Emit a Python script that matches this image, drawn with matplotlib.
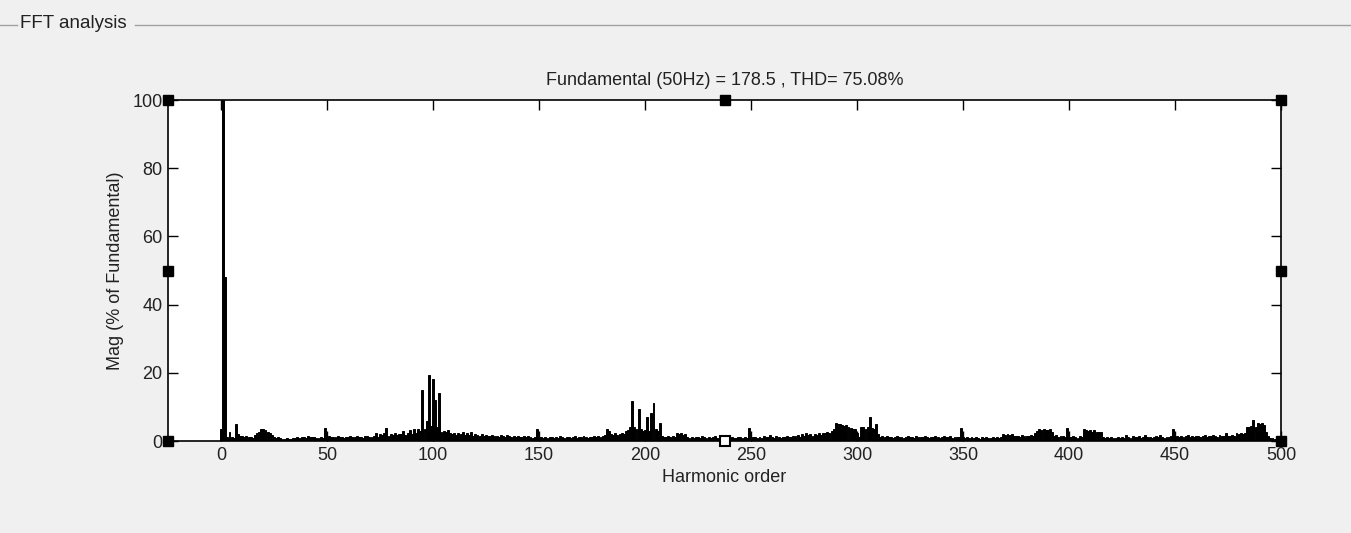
import matplotlib
matplotlib.use("Agg")
import matplotlib.pyplot as plt
from matplotlib.lines import Line2D
import numpy as np

# ---- data (harmonic order 0..500, % of fundamental) ----
title_text = "Fundamental (50Hz) = 178.5 , THD= 75.08%"
x_ticks = [0, 50, 100, 150, 200, 250, 300, 350, 400, 450, 500]
y_ticks = [0, 20, 40, 60, 80, 100]

mag = [
    # 0-19
    3.5, 100, 48, 1.3, 2.7, 1.2, 1.0, 5.0, 2.0, 1.5, 1.6, 1.2, 1.5, 1.1, 1.3, 1.0, 1.8, 2.2, 2.6, 3.4,
    # 20-39
    3.6, 3.2, 2.6, 2.4, 1.8, 1.2, 1.0, 1.1, 0.8, 0.6, 0.7, 0.9, 0.7, 0.6, 0.8, 1.0, 1.1, 1.0, 1.3, 1.2,
    # 40-59
    1.0, 1.4, 1.2, 1.1, 1.3, 1.0, 0.9, 1.2, 1.0, 3.7, 1.1, 1.5, 1.2, 1.3, 1.2, 1.4, 1.1, 1.2, 1.0, 1.3,
    # 60-79
    1.2, 1.4, 1.1, 1.3, 1.5, 1.2, 1.3, 1.0, 1.4, 1.6, 1.1, 1.3, 1.5, 2.2, 1.2, 2.0, 1.8, 2.4, 3.7, 1.5,
    # 80-99
    2.0, 1.8, 2.2, 1.9, 2.1, 2.0, 3.0, 1.8, 2.4, 3.2, 2.0, 3.5, 2.2, 3.6, 2.8, 15.0, 3.5, 6.0, 19.5, 4.5,
    # 100-119
    18.2, 12.0, 4.0, 14.0, 2.5, 3.0, 2.6, 3.1, 2.2, 2.0, 2.4, 1.9, 2.3, 2.0, 2.5, 1.8, 2.2, 1.7, 2.6, 1.6,
    # 120-139
    2.0, 1.8, 1.5, 2.1, 1.4, 1.7, 1.6, 1.5, 1.9, 1.4, 1.6, 1.3, 1.8, 1.5, 1.2, 1.7, 1.4, 1.3, 1.6, 1.2,
    # 140-159
    1.5, 1.3, 1.1, 1.4, 1.2, 1.6, 1.3, 1.0, 1.2, 3.4, 1.1, 1.3, 1.0, 1.2, 0.9, 1.3, 1.1, 0.8, 1.2, 1.0,
    # 160-179
    1.4, 1.2, 1.0, 1.3, 1.1, 0.9, 1.2, 1.4, 1.0, 1.3, 1.1, 1.5, 1.2, 1.0, 1.3, 1.1, 1.4, 1.2, 1.6, 1.3,
    # 180-199
    1.5, 1.8, 3.4, 2.8, 2.0, 1.7, 2.2, 1.9, 2.1, 2.4, 2.0, 3.0, 3.2, 4.0, 11.8, 4.2, 3.5, 9.3, 3.6, 3.0,
    # 200-219
    3.2, 7.1, 3.0, 8.1, 11.0, 3.4, 3.0, 5.2, 1.6, 1.3, 1.1, 1.4, 1.2, 1.5, 1.3, 2.2, 2.0, 2.4, 1.9, 2.1,
    # 220-239
    1.3, 1.0, 1.2, 0.9, 1.3, 1.1, 1.0, 1.4, 1.2, 0.8, 1.3, 1.0, 1.2, 1.4, 0.8, 0.7, 0.9, 0.8, 0.7, 0.9,
    # 240-259
    1.0, 1.2, 1.0, 0.9, 1.3, 1.1, 1.0, 1.2, 0.9, 3.7, 1.0, 1.3, 1.1, 0.9, 1.2, 1.0, 1.4, 1.1, 1.3, 1.8,
    # 260-279
    1.2, 1.0, 1.4, 1.1, 0.9, 1.3, 1.2, 1.5, 1.3, 1.1, 1.6, 1.4, 1.8, 1.3, 2.0, 1.6, 2.2, 1.8, 2.0, 1.5,
    # 280-299
    2.1, 1.9, 2.3, 1.7, 2.4, 2.2, 2.6, 2.3, 3.0, 3.5, 5.2, 4.9, 5.0, 4.7, 4.5, 4.8, 4.2, 3.7, 3.5, 3.6,
    # 300-319
    2.2, 1.3, 4.2, 4.0, 3.5, 4.1, 7.1, 3.7, 3.4, 5.0, 2.0, 1.3, 1.5, 1.2, 1.4, 1.1, 1.3, 1.0, 1.2, 1.4,
    # 320-339
    1.1, 1.3, 1.0, 1.2, 1.5, 1.1, 1.3, 1.0, 1.4, 1.2, 1.3, 1.1, 1.6, 1.2, 1.0, 1.3, 1.1, 1.4, 1.2, 1.0,
    # 340-359
    1.3, 1.5, 1.1, 1.2, 1.4, 1.0, 1.2, 1.1, 1.3, 3.7, 1.2, 1.0, 1.3, 0.8, 1.1, 0.9, 1.2, 1.0, 0.7, 1.1,
    # 360-379
    0.9, 1.2, 1.0, 0.8, 1.1, 0.9, 1.3, 1.0, 1.2, 2.0, 1.9, 2.1, 1.8, 2.0, 1.5, 1.4, 1.6, 1.3, 1.7, 1.5,
    # 380-399
    1.6, 1.4, 1.8, 1.5, 2.2, 3.0, 3.4, 3.2, 3.5, 3.3, 3.1, 3.4, 2.6, 1.5, 1.7, 1.3, 1.6, 1.4, 1.2, 3.7,
    # 400-419
    1.3, 1.1, 1.4, 1.2, 1.0, 1.5, 1.3, 3.4, 3.2, 3.0, 3.3, 2.7, 3.1, 2.7, 2.5, 2.7, 1.1, 1.0, 1.2, 0.9,
    # 420-439
    1.1, 0.8, 1.0, 1.2, 0.9, 1.3, 1.0, 1.8, 1.1, 1.0, 1.4, 1.2, 1.1, 1.5, 1.0, 1.2, 1.8, 1.1, 1.3, 1.0,
    # 440-459
    1.2, 1.4, 1.1, 1.7, 1.2, 1.0, 1.3, 1.1, 1.4, 3.4, 1.2, 1.5, 1.3, 1.6, 1.2, 1.4, 1.8, 1.3, 1.5, 1.2,
    # 460-479
    1.6, 1.4, 1.2, 1.5, 1.8, 1.3, 1.6, 1.4, 1.9, 1.5, 1.3, 1.7, 1.4, 1.6, 2.2, 1.5, 1.4, 1.8, 1.6, 2.2,
    # 480-499
    2.0, 2.4, 2.1, 2.3, 4.0, 4.2, 4.5, 6.2, 4.0, 5.2, 5.0, 5.3, 4.8, 2.7, 1.6, 0.8, 0.9, 0.7, 0.8, 0.6,
    # 500
    0.7,
]
harmonic = np.arange(len(mag))

# ---------------------------- figure ----------------------------
bg = "#f0f0f0"
txt = "#222222"
fs = 13
plt.rcParams["font.family"] = ["Liberation Sans", "DejaVu Sans"]

fig = plt.figure(figsize=(13.51, 5.33), dpi=100, facecolor=bg)

# group box header "FFT analysis"
fig.text(20 / 1351, 1 - 24 / 533, "FFT analysis", fontsize=13.5, color=txt,
         va="center", ha="left")
fig.add_artist(Line2D([0, 17 / 1351], [1 - 25 / 533] * 2, color="#a0a0a0", lw=1))
fig.add_artist(Line2D([135 / 1351, 1], [1 - 25 / 533] * 2, color="#a0a0a0", lw=1))

ax = fig.add_axes([168 / 1351, 92 / 533, 1113 / 1351, 341 / 533])
ax.set_facecolor("white")
ax.bar(harmonic, mag, width=0.9, color="black", edgecolor="black", linewidth=0.7)

ax.set_xlim(-25, 500)
ax.set_ylim(0, 100)
ax.set_xticks(x_ticks)
ax.set_yticks(y_ticks)
ax.tick_params(direction="in", length=7, width=1, top=True, right=True,
               labelsize=fs, colors="black", labelcolor=txt, pad=4)
for s in ax.spines.values():
    s.set_color("black")
    s.set_linewidth(1.2)

ax.set_title(title_text, fontsize=fs, color=txt, pad=11)
ax.set_xlabel("Harmonic order", fontsize=fs, color=txt, labelpad=4)
ax.set_ylabel("Mag (% of Fundamental)", fontsize=fs, color=txt, labelpad=6)

# selection handles drawn by the GUI on corners / mid edges
xm = (-25 + 500) / 2
handles = [(-25, 100), (xm, 100), (500, 100), (-25, 50), (500, 50),
           (-25, 0), (500, 0)]
for hx, hy in handles:
    ax.plot(hx, hy, marker="s", ms=7, color="black", clip_on=False, zorder=5)
ax.plot(xm, 0, marker="s", ms=7, mfc="white", mec="black", mew=1.5,
        clip_on=False, zorder=5)

fig.savefig("out.png", dpi=100, facecolor=bg)
